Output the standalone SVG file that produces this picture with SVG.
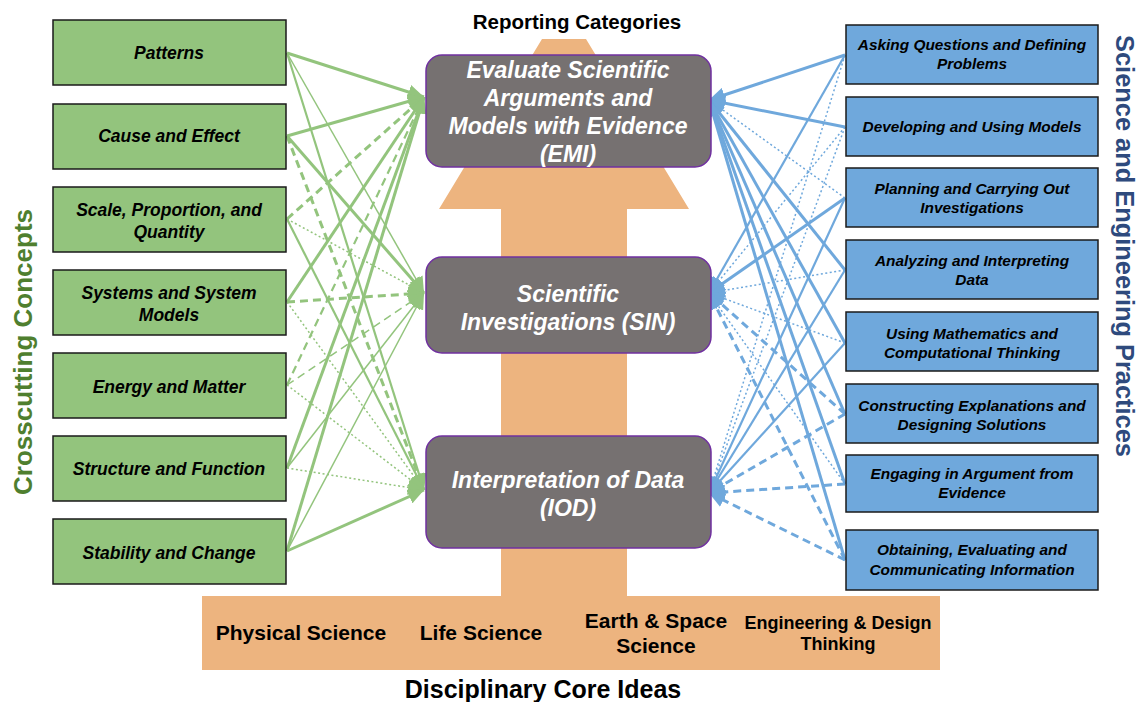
<svg xmlns="http://www.w3.org/2000/svg" width="1140" height="702" viewBox="0 0 1140 702">
<style>
.cc rect{fill:#93c47d;stroke:#1a1a1a;stroke-width:1.5}
.sep rect{fill:#6fa8dc;stroke:#1a1a1a;stroke-width:1.5}
.rc rect{fill:#767171;stroke:#7030a0;stroke-width:1.5}
.cc text,.sep text{font-family:"Liberation Sans",Arial,sans-serif;font-weight:bold;font-style:italic;fill:#000;text-anchor:middle}
.cc text{font-size:17.5px}
.sep text{font-size:15.4px}
.rc text{font-family:"Liberation Sans",Arial,sans-serif;font-weight:bold;font-style:italic;fill:#fff;font-size:23px;text-anchor:middle}
.lbl{font-family:"Liberation Sans",Arial,sans-serif;font-weight:bold;fill:#000;text-anchor:middle}
.g{stroke:#93c47d;fill:none;marker-end:url(#ag)}
.b{stroke:#6fa8dc;fill:none;marker-end:url(#ab)}
.tk{stroke-width:3}
.md{stroke-width:2.2}
.tn{stroke-width:1.5}
.da{stroke-dasharray:8,5}
.dt{stroke-dasharray:2,2.5}
</style>
<defs>
<marker id="ag" markerUnits="userSpaceOnUse" markerWidth="18" markerHeight="15" refX="16" refY="7.5" orient="auto"><path d="M0,0 L16,7.5 L0,15 z" fill="#93c47d"/></marker>
<marker id="ab" markerUnits="userSpaceOnUse" markerWidth="18" markerHeight="15" refX="16" refY="7.5" orient="auto"><path d="M0,0 L16,7.5 L0,15 z" fill="#6fa8dc"/></marker>
</defs>
<rect width="1140" height="702" fill="#fff"/>
<g id="dci-arrow">
<polygon points="542,39 586,39 689,209 627,209 627,596 940,596 940,670 202,670 202,596 501,596 501,209 439,209" fill="#edb47f"/>
</g>
<text class="lbl" x="577" y="29" font-size="20.5">Reporting Categories</text>
<text class="lbl" x="543" y="698" font-size="25">Disciplinary Core Ideas</text>
<g id="dci-labels" class="lbl" font-size="21">
<text x="301" y="640">Physical Science</text>
<text x="481" y="640">Life Science</text>
<text x="656" y="628">Earth &amp; Space</text>
<text x="656" y="653">Science</text>
<text x="838" y="629" font-size="18">Engineering &amp; Design</text>
<text x="838" y="650" font-size="18">Thinking</text>
</g>
<text class="lbl" font-size="26" style="fill:#4f7f2f" transform="translate(32,352) rotate(-90)">Crosscutting Concepts</text>
<text class="lbl" font-size="25.4" style="fill:#2e4a7d" transform="translate(1116,246) rotate(90)">Science and Engineering Practices</text>
<g id="connectors">
<line class="g tk" x1="287" y1="53" x2="424" y2="97"/>
<line class="g tn" x1="287" y1="53" x2="424" y2="293"/>
<line class="g md" x1="287" y1="53" x2="424" y2="490"/>
<line class="g tk" x1="287" y1="136" x2="424" y2="97"/>
<line class="g tk" x1="287" y1="136" x2="424" y2="293"/>
<line class="g tk da" x1="287" y1="136" x2="424" y2="490"/>
<line class="g tk da" x1="287" y1="219" x2="424" y2="97"/>
<line class="g tn dt" x1="287" y1="219" x2="424" y2="293"/>
<line class="g md" x1="287" y1="219" x2="424" y2="490"/>
<line class="g tk" x1="287" y1="302" x2="424" y2="97"/>
<line class="g tk da" x1="287" y1="302" x2="424" y2="293"/>
<line class="g tn dt" x1="287" y1="302" x2="424" y2="490"/>
<line class="g md da" x1="287" y1="385" x2="424" y2="97"/>
<line class="g tn da" x1="287" y1="385" x2="424" y2="293"/>
<line class="g tn dt" x1="287" y1="385" x2="424" y2="490"/>
<line class="g tk" x1="287" y1="468" x2="424" y2="97"/>
<line class="g tn" x1="287" y1="468" x2="424" y2="293"/>
<line class="g tn dt" x1="287" y1="468" x2="424" y2="490"/>
<line class="g tk" x1="287" y1="551" x2="424" y2="97"/>
<line class="g tn" x1="287" y1="551" x2="424" y2="293"/>
<line class="g tk" x1="287" y1="551" x2="424" y2="490"/>
<line class="b tk" x1="845" y1="55" x2="709" y2="100"/>
<line class="b md" x1="845" y1="55" x2="709" y2="293"/>
<line class="b tn dt" x1="845" y1="55" x2="709" y2="493"/>
<line class="b tk" x1="845" y1="127" x2="709" y2="100"/>
<line class="b tn dt" x1="845" y1="127" x2="709" y2="293"/>
<line class="b tn dt" x1="845" y1="127" x2="709" y2="493"/>
<line class="b tn dt" x1="845" y1="198" x2="709" y2="100"/>
<line class="b tk" x1="845" y1="198" x2="709" y2="293"/>
<line class="b md" x1="845" y1="198" x2="709" y2="493"/>
<line class="b tk" x1="845" y1="270" x2="709" y2="100"/>
<line class="b tn dt" x1="845" y1="270" x2="709" y2="293"/>
<line class="b md" x1="845" y1="270" x2="709" y2="493"/>
<line class="b tk" x1="845" y1="343" x2="709" y2="100"/>
<line class="b tn dt" x1="845" y1="343" x2="709" y2="293"/>
<line class="b md" x1="845" y1="343" x2="709" y2="493"/>
<line class="b tk" x1="845" y1="414" x2="709" y2="100"/>
<line class="b tk da" x1="845" y1="414" x2="709" y2="293"/>
<line class="b tk da" x1="845" y1="414" x2="709" y2="493"/>
<line class="b tk" x1="845" y1="484" x2="709" y2="100"/>
<line class="b tn dt" x1="845" y1="484" x2="709" y2="293"/>
<line class="b tk da" x1="845" y1="484" x2="709" y2="493"/>
<line class="b tk" x1="845" y1="560" x2="709" y2="100"/>
<line class="b tk da" x1="845" y1="560" x2="709" y2="293"/>
<line class="b tk da" x1="845" y1="560" x2="709" y2="493"/>
</g>
<g id="emi" class="rc"><rect x="426" y="55" width="285" height="112" rx="16"/>
<text x="568" y="78">Evaluate Scientific</text><text x="568" y="106">Arguments and</text><text x="568" y="134">Models with Evidence</text><text x="568" y="162">(EMI)</text></g>
<g id="sin" class="rc"><rect x="426" y="257" width="285" height="96" rx="16"/>
<text x="568" y="302">Scientific</text><text x="568" y="330">Investigations (SIN)</text></g>
<g id="iod" class="rc"><rect x="426" y="436" width="285" height="112" rx="16"/>
<text x="568" y="488">Interpretation of Data</text><text x="568" y="516">(IOD)</text></g>
<g id="cc-patterns" class="cc"><rect x="53" y="20" width="233" height="65"/><text x="169" y="59">Patterns</text></g>
<g id="cc-cause" class="cc"><rect x="53" y="104" width="233" height="65"/><text x="169" y="142">Cause and Effect</text></g>
<g id="cc-scale" class="cc"><rect x="53" y="187" width="233" height="65"/><text x="169" y="216">Scale, Proportion, and</text><text x="169" y="238">Quantity</text></g>
<g id="cc-systems" class="cc"><rect x="53" y="270" width="233" height="65"/><text x="169" y="299">Systems and System</text><text x="169" y="321">Models</text></g>
<g id="cc-energy" class="cc"><rect x="53" y="353" width="233" height="65"/><text x="169" y="393">Energy and Matter</text></g>
<g id="cc-structure" class="cc"><rect x="53" y="436" width="233" height="65"/><text x="169" y="475">Structure and Function</text></g>
<g id="cc-stability" class="cc"><rect x="53" y="519" width="233" height="65"/><text x="169" y="559">Stability and Change</text></g>
<g id="sep-asking" class="sep"><rect x="846" y="25" width="252" height="59"/><text x="972" y="50">Asking Questions and Defining</text><text x="972" y="69">Problems</text></g>
<g id="sep-models" class="sep"><rect x="846" y="97" width="252" height="59"/><text x="972" y="132">Developing and Using Models</text></g>
<g id="sep-planning" class="sep"><rect x="846" y="168" width="252" height="59"/><text x="972" y="194">Planning and Carrying Out</text><text x="972" y="213">Investigations</text></g>
<g id="sep-analyzing" class="sep"><rect x="846" y="240" width="252" height="59"/><text x="972" y="266">Analyzing and Interpreting</text><text x="972" y="285">Data</text></g>
<g id="sep-math" class="sep"><rect x="846" y="312" width="252" height="59"/><text x="972" y="339">Using Mathematics and</text><text x="972" y="358">Computational Thinking</text></g>
<g id="sep-explanations" class="sep"><rect x="846" y="384" width="252" height="59"/><text x="972" y="411">Constructing Explanations and</text><text x="972" y="430">Designing Solutions</text></g>
<g id="sep-argument" class="sep"><rect x="846" y="455" width="252" height="57"/><text x="972" y="479">Engaging in Argument from</text><text x="972" y="498">Evidence</text></g>
<g id="sep-information" class="sep"><rect x="846" y="530" width="252" height="60"/><text x="972" y="555">Obtaining, Evaluating and</text><text x="972" y="575">Communicating Information</text></g>
</svg>
